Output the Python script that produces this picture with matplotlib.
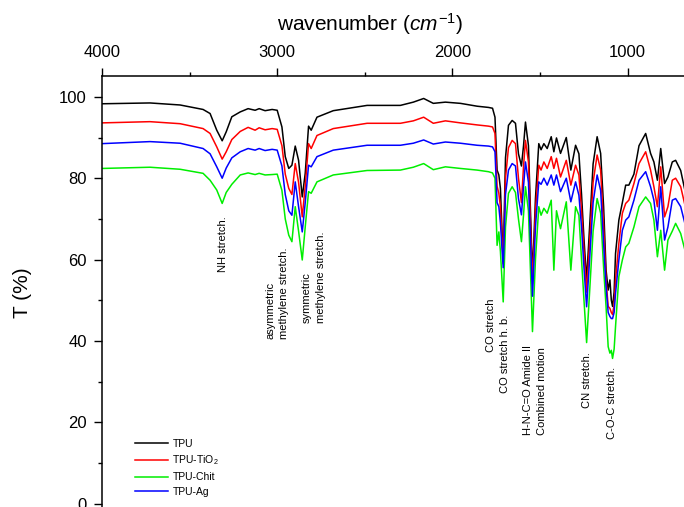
import numpy as np
import matplotlib
matplotlib.use("Agg")
import matplotlib.pyplot as plt
from matplotlib.ticker import MultipleLocator

plt.rcParams['font.family'] = ['Liberation Sans', 'DejaVu Sans']
plt.rcParams['mathtext.fontset'] = 'custom'
plt.rcParams['mathtext.rm'] = 'Liberation Sans'
plt.rcParams['mathtext.it'] = 'Liberation Sans:italic'

# wavenumber (cm-1) points
wavenumber = [4000, 3726, 3554, 3423, 3383, 3345, 3314, 3291, 3259, 3211,
              3166, 3126, 3103, 3069, 3029, 3000, 2973, 2954, 2934, 2916,
              2897, 2878, 2857, 2840, 2821, 2806, 2773, 2680, 2487, 2297,
              2223, 2164, 2109, 2040, 1954, 1859, 1794, 1771, 1757, 1745,
              1735, 1726, 1710, 1697, 1680, 1659, 1640, 1623, 1606, 1594,
              1583, 1566, 1543, 1526, 1507, 1494, 1478, 1459, 1436, 1421,
              1406, 1383, 1350, 1324, 1297, 1278, 1263, 1249, 1234, 1217,
              1197, 1174, 1154, 1137, 1123, 1111, 1101, 1093, 1086, 1077,
              1069, 1050, 1030, 1011, 993, 964, 935, 897, 869, 850,
              830, 811, 789, 770, 745, 726, 697, 668]

tpu = [98.3, 98.5, 98.0, 96.9, 95.9, 91.8, 89.2, 91.4, 95.1, 96.3,
       97.1, 96.7, 97.1, 96.6, 96.9, 96.7, 92.6, 85.3, 82.4, 83.2,
       87.9, 84.4, 75.4, 81.2, 92.8, 91.8, 95.0, 96.6, 97.9, 97.9,
       98.7, 99.6, 98.4, 98.7, 98.4, 97.7, 97.4, 97.2, 95.0, 82.0,
       80.8, 77.5, 59.5, 85.0, 93.0, 94.2, 93.5, 86.0, 83.0, 88.0,
       93.8, 88.0, 56.0, 75.0, 88.5, 87.0, 88.5, 87.3, 90.2, 86.5,
       89.9, 86.1, 90.0, 82.0, 88.1, 86.0, 76.0, 65.0, 55.0, 68.0,
       83.5, 90.2, 86.1, 73.0, 57.4, 52.5, 55.0, 50.0, 48.5, 52.0,
       61.5, 69.7, 74.0, 78.3, 78.3, 81.0, 88.0, 91.0, 86.1, 84.0,
       79.5, 87.3, 78.7, 80.3, 84.0, 84.4, 81.9, 76.0]

tpu_tio2 = [93.6, 93.9, 93.4, 92.2, 91.0, 87.7, 84.7, 86.5, 89.5, 91.5,
            92.5, 91.8, 92.4, 91.9, 92.2, 92.0, 88.0, 81.0, 77.5, 76.0,
            83.6, 79.0, 70.5, 78.0, 88.5, 87.3, 90.5, 92.2, 93.5, 93.5,
            94.1, 95.0, 93.5, 94.1, 93.6, 93.1, 92.8, 92.6, 91.0, 78.0,
            76.3, 73.0, 59.0, 80.0, 87.5, 89.3, 88.5, 80.0, 74.0, 83.0,
            89.3, 84.0, 54.0, 72.0, 83.2, 82.0, 84.0, 82.4, 85.3, 82.4,
            84.9, 80.3, 84.4, 78.3, 83.2, 80.8, 72.0, 62.0, 52.0, 64.0,
            79.0, 85.7, 82.0, 68.0, 55.0, 48.5, 48.0, 47.0, 46.5, 49.0,
            55.0, 64.0, 71.4, 73.8, 74.6, 78.7, 83.6, 86.5, 82.0, 77.9,
            73.0, 82.8, 70.5, 73.0, 79.5, 80.0, 77.9, 72.5]

tpu_chit = [82.4, 82.7, 82.2, 81.2, 79.5, 77.1, 73.8, 76.5, 78.5, 80.8,
            81.3, 80.9, 81.2, 80.8, 80.9, 81.0, 77.0, 70.0, 66.0, 64.4,
            73.0, 67.0, 59.9, 68.0, 76.7, 76.3, 79.1, 80.8, 81.9, 82.0,
            82.7, 83.6, 82.1, 82.8, 82.4, 82.0, 81.6, 81.3, 80.0, 63.5,
            66.8, 62.0, 49.6, 68.0, 76.3, 77.9, 76.5, 70.0, 64.4, 71.0,
            77.9, 72.0, 42.3, 60.0, 73.0, 70.9, 72.6, 71.4, 74.6, 57.4,
            72.0, 67.6, 74.2, 57.4, 73.0, 70.9, 60.0, 50.0, 39.6, 52.0,
            67.0, 75.0, 71.4, 58.0, 48.4, 38.6, 37.0, 37.7, 35.7, 38.0,
            43.5, 55.8, 59.9, 63.1, 64.0, 68.0, 73.0, 75.4, 73.8, 69.7,
            60.7, 67.2, 57.4, 64.8, 67.0, 68.9, 66.4, 61.5]

tpu_ag = [88.5, 89.0, 88.6, 87.3, 86.0, 82.8, 80.0, 82.5, 85.0, 86.5,
          87.3, 86.9, 87.3, 86.8, 87.1, 86.9, 83.0, 76.0, 72.0, 70.9,
          79.1, 73.0, 66.8, 74.0, 83.2, 82.8, 85.3, 86.9, 88.1, 88.1,
          88.6, 89.4, 88.4, 88.9, 88.6, 88.1, 87.9, 87.7, 86.5, 74.0,
          73.0, 69.0, 58.0, 76.0, 82.0, 83.6, 83.0, 75.0, 71.0, 78.0,
          84.0, 79.0, 51.0, 68.0, 79.1, 78.5, 80.0, 78.3, 80.8, 78.3,
          80.8, 76.7, 80.0, 74.2, 79.1, 75.8, 68.0, 58.0, 48.4, 60.0,
          74.0, 80.8, 77.0, 64.0, 53.3, 47.0, 46.0, 45.5, 45.5, 47.0,
          51.7, 59.9, 67.2, 69.7, 70.5, 74.6, 79.5, 81.6, 77.9, 74.6,
          67.2, 77.9, 64.8, 68.0, 74.6, 75.0, 73.0, 68.0]

labels = ['TPU', 'TPU-TiO$_2$', 'TPU-Chit', 'TPU-Ag']
colors = ['#000000', '#ff0000', '#00ee00', '#0000ff']

# band labels: (text, wavenumber, T at the start of the text)
bands = [
    ('NH stretch.', 3307, 57.0),
    ('asymmetric\nmethylene stretch.', 3002, 40.6),
    ('symmetric\nmethylene stretch.', 2790, 44.3),
    ('CO stretch', 1779, 37.3),
    ('CO stretch h. b.', 1697, 27.1),
    ('H-N-C=O Amide II\nCombined motion', 1529, 16.9),
    ('CN stretch.', 1230, 23.4),
    ('C-O-C stretch.', 1087, 16.0),
]

fig = plt.figure(figsize=(6.84, 5.07), dpi=100)
ax = fig.add_axes([0.1491, -0.0095, 0.8530, 0.8602])

for y, lab, c in zip([tpu, tpu_tio2, tpu_chit, tpu_ag], labels, colors):
    ax.plot(wavenumber, y, color=c, lw=1.1, label=lab)

ax.set_xlim(4000, 670)
ax.set_ylim(-2, 105.2)

ax.xaxis.tick_top()
ax.xaxis.set_label_position('top')
ax.xaxis.set_major_locator(MultipleLocator(1000))
ax.xaxis.set_minor_locator(MultipleLocator(500))
ax.yaxis.set_major_locator(MultipleLocator(20))
ax.yaxis.set_minor_locator(MultipleLocator(10))
ax.tick_params(which='major', direction='out', length=6, width=1, labelsize=12, pad=5)
ax.tick_params(which='minor', direction='out', length=3, width=1)
ax.spines['right'].set_visible(False)
ax.spines['bottom'].set_visible(False)
for s in ['top', 'left']:
    ax.spines[s].set_linewidth(1.1)

ax.set_xlabel('wavenumber ($cm^{-1}$)', fontsize=15)
ax.xaxis.set_label_coords(0.46, 1.0 + 45 / 436)
ax.set_ylabel('T (%)', fontsize=15)
ax.yaxis.set_label_coords(-70 / 583, (511.8 - 293) / 436)

for txt, wn, t in bands:
    ax.text(wn, t, txt, rotation=90, ha='center', va='bottom',
            multialignment='left', fontsize=8, linespacing=1.45)

ax.legend(loc='upper left', bbox_to_anchor=(135 / 684, 1 - 439 / 507),
          bbox_transform=fig.transFigure, frameon=False, fontsize=7.5,
          handlelength=3.2, handletextpad=0.4, labelspacing=0.45,
          borderaxespad=0, borderpad=0)

fig.savefig('out.png', dpi=100)
